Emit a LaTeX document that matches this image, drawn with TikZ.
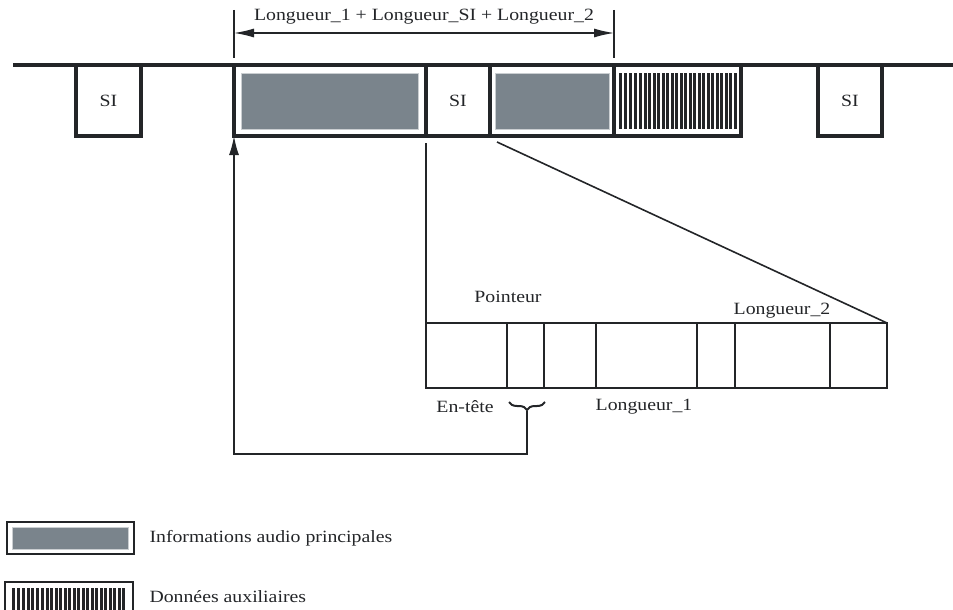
\documentclass[tikz,border=0pt]{standalone}
\usepackage{fontspec}
\setmainfont[FakeStretch=1.15]{Liberation Serif}
\usetikzlibrary{arrows.meta,decorations.pathreplacing}
\definecolor{audiogray}{RGB}{122,132,140}
\definecolor{ink}{RGB}{35,37,40}
\begin{document}
\begin{tikzpicture}[x=1pt,y=-1pt,
  every node/.style={font=\fontsize{17.2}{20}\selectfont, text=ink},
  thickbox/.style={draw=ink, line width=3.5pt, inner sep=0pt, outer sep=0pt, anchor=north west, minimum height=71pt},
  cellbox/.style={draw=ink, line width=1.6pt, inner sep=0pt, outer sep=0pt, anchor=north west, minimum height=65pt},
  audiobox/.style={fill=audiogray, draw=audiogray!40, line width=0.6pt, inner sep=0pt, outer sep=0pt, anchor=north west},
  legendbox/.style={draw=ink, line width=2.5pt, inner sep=0pt, outer sep=0pt, anchor=north west},
  thinline/.style={draw=ink, line width=1.6pt},
  dimarrow/.style={draw=ink, line width=1.3pt, {Latex[length=20pt,width=9pt]}-{Latex[length=20pt,width=9pt]}},
  ptrarrow/.style={draw=ink, line width=1.6pt, -{Latex[length=19pt,width=10pt]}}
]
\useasboundingbox (0,0) rectangle (953,610);

% top stream line
\coordinate (l0) at (13,65);
\coordinate (l1) at (953,65);
\draw[ink, line width=4pt] (l0) -- (l1);

% SI boxes outside frame
\node[thickbox, minimum width=65pt] (sileft) at (76,65) {};
\node at (sileft.center) {SI};
\node[thickbox, minimum width=64pt] (siright) at (818,65) {};
\node at (siright.center) {SI};

% main frame
\node[thickbox, minimum width=192pt] (A) at (234,65) {};
\node[thickbox, minimum width=64pt] (SIm) at (426,65) {};
\node at (SIm.center) {SI};
\node[thickbox, minimum width=124pt] (B) at (490,65) {};
\node[thickbox, minimum width=127pt] (C) at (614,65) {};
\node[audiobox, minimum width=177pt, minimum height=56pt] (ga) at (241,73) {};
\node[audiobox, minimum width=114pt, minimum height=56pt] (gb) at (495,73) {};
\foreach \x/\w in {619/3.4,624/3.4,629/3.4,634/2.6,639/3.4,644/2.6,648/3.4,653/2.6,657/3.4,662/2.6,666/3.4,671/2.6,675/3.4,680/2.6,684/3.4,689/2.6,693/3.4,698/2.6,702/3.4,707/2.6,711/3.4,716/2.6,720/3.4,725/2.6,729/3.4,734/3}
  \fill[ink] (\x,73) rectangle ++(\w,56);

% dimension
\coordinate (t0a) at (234,10); \coordinate (t0b) at (234,58);
\coordinate (t1a) at (614,10); \coordinate (t1b) at (614,58);
\draw[ink, line width=1.3pt] (t0a) -- (t0b);
\draw[ink, line width=1.3pt] (t1a) -- (t1b);
\coordinate (d0) at (234,33); \coordinate (d1) at (614,33);
\draw[dimarrow] (d0) -- (d1);
\node (dimlabel) at (424,17) {Longueur\_1 + Longueur\_SI + Longueur\_2};

% expanded SI
\node[cellbox, minimum width=81pt] (c1) at (426,323) {};
\node[cellbox, minimum width=37pt] (c2) at (507,323) {};
\node[cellbox, minimum width=52pt] (c3) at (544,323) {};
\node[cellbox, minimum width=101pt] (c4) at (596,323) {};
\node[cellbox, minimum width=38pt] (c5) at (697,323) {};
\node[cellbox, minimum width=95pt] (c6) at (735,323) {};
\node[cellbox, minimum width=57pt] (c7) at (830,323) {};

\coordinate (v0) at (426,143);
\draw[thinline] (v0) -- (c1.north west);
\coordinate (g0) at (497,142);
\draw[thinline] (g0) -- (c7.north east);

\node (pointeur) at (508,297) {Pointeur};
\node (long2) at (782,311) {Longueur\_2};
\node (entete) at (465,407) {En-tête};
\node (long1) at (644,407) {Longueur\_1};

% brace and pointer arrow
\coordinate (br0) at (509,402);
\coordinate (br1) at (545,402);
\draw[ink, line width=2pt, decorate, decoration={brace, mirror, amplitude=8pt}] (br0) -- (br1);
\coordinate (bt) at (527,411);
\coordinate (bturn) at (527,454);
\draw[ptrarrow] (bt) -- (bturn) -| (A.south west);

% legend
\node[legendbox, minimum width=127pt, minimum height=32pt] (leg1) at (7,522) {};
\node[audiobox, minimum width=116pt, minimum height=22pt] (leg1g) at (12,527) {};
\node[anchor=west] (leg1t) at (146,538) {Informations audio principales};
\node[legendbox, minimum width=128pt, minimum height=34pt] (leg2) at (5,582) {};
\foreach \x/\w in {12/3.4,17/3.4,22/3.4,27/2.6,31/3.4,36/3.4,41/3.4,46/2.6,50/3.4,55/2.6,59/3.4,64/2.6,68/3.4,73/2.6,77/3.4,82/2.6,86/3.4,91/2.6,95/3.4,100/2.6,104/3.4,109/2.6,113/3.4,118/2.6,122/3.4}
  \fill[ink] (\x,588) rectangle ++(\w,30);
\node[anchor=west] (leg2t) at (146,597) {Données auxiliaires};
\end{tikzpicture}
\end{document}
